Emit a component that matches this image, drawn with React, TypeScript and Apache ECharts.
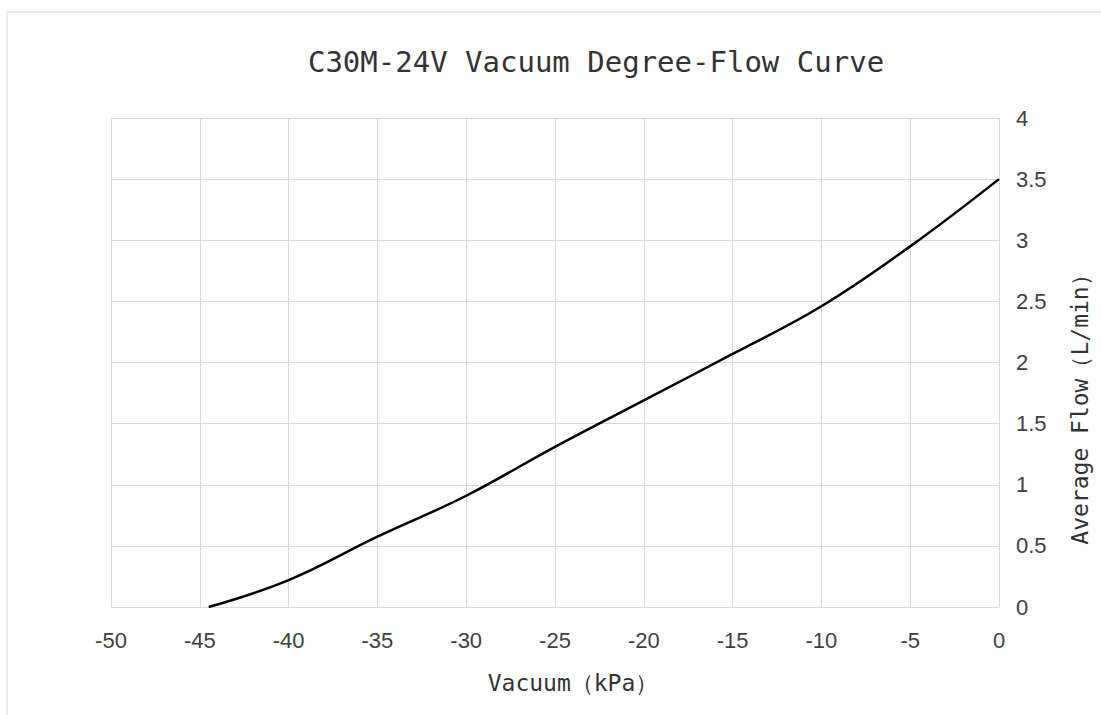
import React, { useEffect, useRef } from "react";
import * as echarts from "echarts";

const vacuum = [-44.5, -40, -35, -30, -25, -20, -15, -10, -5, 0];
const flow = [0, 0.22, 0.575, 0.91, 1.31, 1.69, 2.07, 2.46, 2.95, 3.5];
const titleText = "C30M-24V Vacuum Degree-Flow Curve";
const xName = "Vacuum（kPa）";
const yName = "Average Flow（L/min）";

export default function App() {
  const ref = useRef<HTMLDivElement>(null);
  useEffect(() => {
    if (!ref.current) return;
    const chart = echarts.init(ref.current, undefined, { renderer: "svg" });
    const data = vacuum.map((v, i) => [v, flow[i]]);
    chart.setOption({
      animation: false,
      backgroundColor: "#ffffff",
      grid: { left: 111, right: 102, top: 118, bottom: 108 },
      xAxis: {
        type: "value",
        min: -50,
        max: 0,
        interval: 5,
        name: xName,
        nameLocation: "middle",
        nameGap: 64,
        nameTextStyle: {
          fontFamily: "DejaVu Sans Mono",
          fontSize: 23,
          color: "#333",
          padding: [0, 0, 0, 36],
        },
        axisLine: { show: true, lineStyle: { color: "#d9d9d9" } },
        axisTick: { show: false },
        axisLabel: { fontFamily: "Liberation Sans", fontSize: 22, color: "#404040", margin: 22 },
        splitLine: { show: true, lineStyle: { color: "#d9d9d9", width: 1 } },
      },
      yAxis: {
        type: "value",
        position: "right",
        min: 0,
        max: 4,
        interval: 0.5,
        axisLine: { show: false },
        axisTick: { show: false },
        axisLabel: { fontFamily: "Liberation Sans", fontSize: 22, color: "#404040", margin: 17 },
        splitLine: { show: true, lineStyle: { color: "#d9d9d9", width: 1 } },
      },
      series: [
        {
          type: "line",
          data,
          smooth: 0.4,
          showSymbol: false,
          lineStyle: { color: "#000000", width: 2.5 },
        },
      ],
      graphic: [
        {
          type: "rect",
          shape: { x: 7, y: 12, width: 1200, height: 800 },
          style: { fill: "none", stroke: "#d9d9d9", lineWidth: 1 },
          silent: true,
        },
        {
          type: "text",
          x: 596,
          y: 62,
          style: {
            text: titleText,
            fontFamily: "DejaVu Sans Mono",
            fontSize: 29,
            fill: "#333",
            align: "center",
            verticalAlign: "middle",
          },
        },
        {
          type: "text",
          x: 1080,
          y: 404,
          rotation: Math.PI / 2,
          style: {
            text: yName,
            fontFamily: "DejaVu Sans Mono",
            fontSize: 23,
            fill: "#333",
            align: "center",
            verticalAlign: "middle",
          },
        },
      ],
    });
    return () => chart.dispose();
  }, []);
  return (
    <div
      ref={ref}
      style={{ position: "fixed", left: 0, top: 0, width: 1101, height: 715 }}
    />
  );
}
